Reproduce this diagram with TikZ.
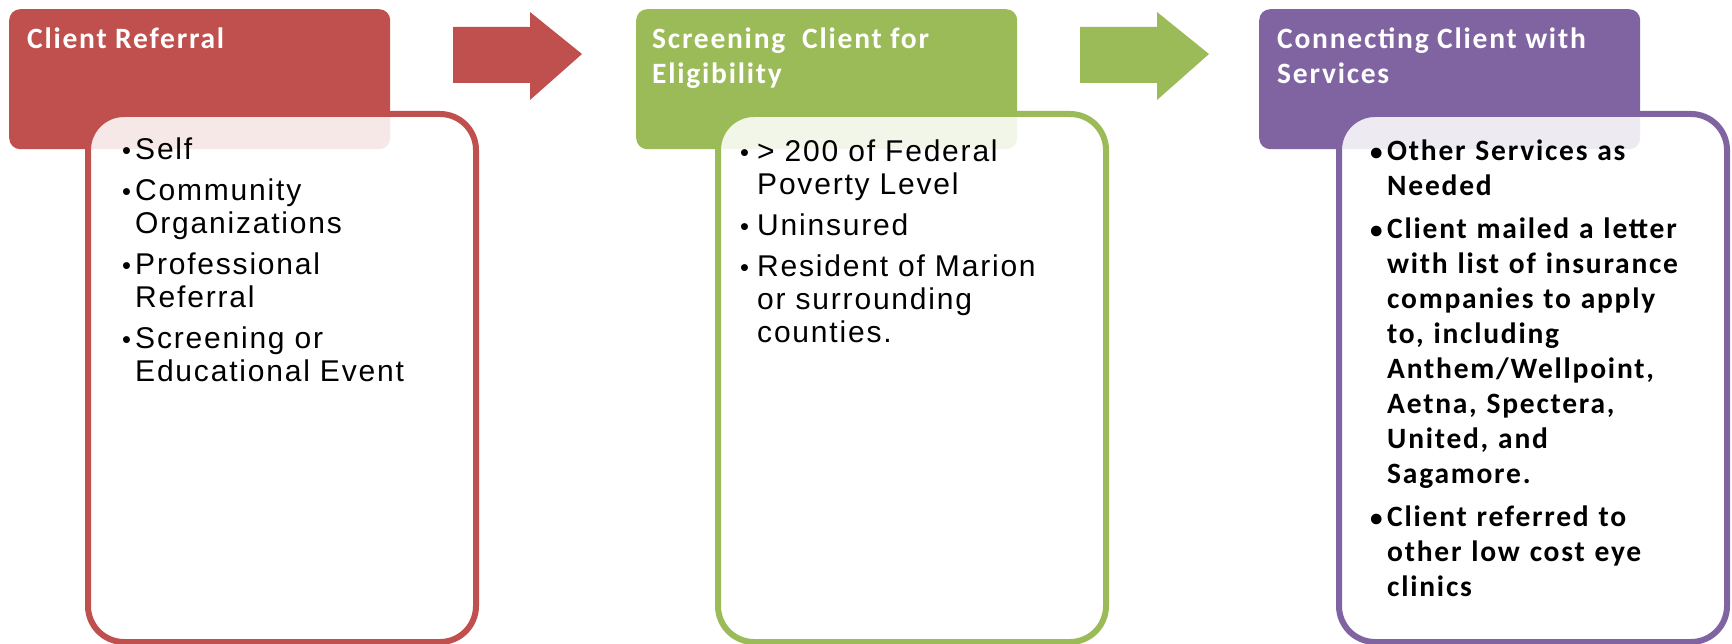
\documentclass[tikz,border=0pt]{standalone}
\usepackage{graphicx}
\usepackage{fontspec}
\setmainfont{Liberation Sans}[LetterSpace=6]
\newfontfamily\calfont{Carlito}[LetterSpace=6]
\usepackage{tikz}
\usetikzlibrary{positioning}

\definecolor{refred}{HTML}{C0504D}
\definecolor{refgreen}{HTML}{9BBB59}
\definecolor{refpurple}{HTML}{8064A2}

% one bullet item, lines after the first hang under the text
\newcommand{\bitem}[2][13pt]{\hangindent=#1\hangafter=1\noindent\makebox[#1][l]{\scalebox{0.85}{\textbullet}}#2\par}

\tikzset{
  hdr/.style={fill=#1, rounded corners=11pt, minimum width=381pt, minimum height=140pt, anchor=north west},
  bodybox/.style={draw=#1, line width=6pt, fill=white, fill opacity=0.87, rounded corners=36pt,
    minimum width=388pt, minimum height=528pt, anchor=north west},
  hdrtext/.style={text=white, font=\calfont\bfseries\fontsize{29.5}{35}\selectfont, align=left, inner sep=0pt, anchor=north west},
  listtext/.style={text width=350pt, align=left, inner sep=0pt, anchor=north west, font=\fontsize{30}{33}\selectfont},
}

\begin{document}
\begin{tikzpicture}[x=1pt, y=-1pt]
  \useasboundingbox (0,0) rectangle (1732,644);
  % step headers
  \node[hdr=refred] (h1) at (9,9) {};
  \node[hdr=refgreen] (h2) at (636,9) {};
  \node[hdr=refpurple] (h3) at (1259,9) {};
  % block arrows
  \foreach \dx/\col in {0/refred, 627/refgreen}
    \fill[\col, xshift=\dx pt] (453,27) -- (530,27) -- (530,12) -- (582,54) -- (530,100) -- (530,83) -- (453,83) -- cycle;
  % detail boxes
  \node[bodybox=refred] (b1) at (85,111) {};
  \node[bodybox=refgreen] (b2) at (715,111) {};
  \node[bodybox=refpurple] (b3) at (1336,111) {};
  % header texts
  \node[hdrtext, below right=19pt and 18pt of h1.north west] (h1t) {Client Referral};
  \node[hdrtext, below right=19pt and 16pt of h2.north west] (h2t) {Screening\ \ Client for\\Eligibility};
  \node[hdrtext, below right=19pt and 18pt of h3.north west] (h3t) {Connecting Client with\\Services};
  % lists
  \node[listtext, below right=27pt and 37pt of b1.north west] (t1) {\setlength{\parskip}{8pt}%
    \bitem{Self}
    \bitem{Community\newline Organizations}
    \bitem{Professional\newline Referral}
    \bitem{Screening or\newline Educational Event}};
  \node[listtext, below right=29pt and 25pt of b2.north west] (t2) {\setlength{\parskip}{8pt}%
    \bitem[17pt]{> 200 of Federal\newline Poverty Level}
    \bitem[17pt]{Uninsured}
    \bitem[17pt]{Resident of Marion\newline or surrounding\newline counties.}};
  \node[listtext, font=\calfont\bfseries\fontsize{29.5}{35}\selectfont, below right=29pt and 34pt of b3.north west] (t3) {\setlength{\parskip}{8pt}%
    \bitem[17pt]{Other Services as\newline Needed}
    \bitem[17pt]{Client mailed a letter\newline with list of insurance\newline companies to apply\newline to, including\newline Anthem/Wellpoint,\newline Aetna, Spectera,\newline United, and\newline Sagamore.}
    \bitem[17pt]{Client referred to\newline other low cost eye\newline clinics}};
\end{tikzpicture}
\end{document}
